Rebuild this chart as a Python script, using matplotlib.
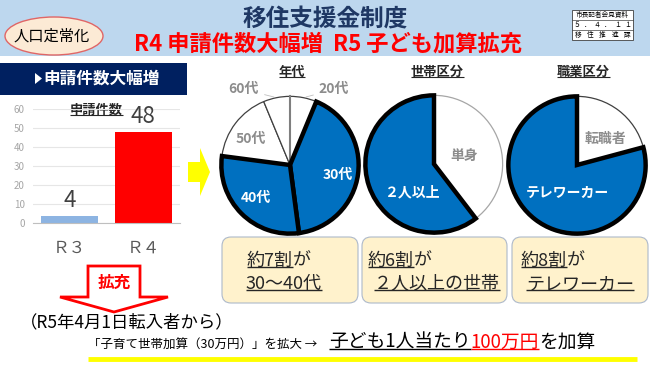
import matplotlib
matplotlib.use('Agg')
import matplotlib.pyplot as plt
from matplotlib.patches import Rectangle, Ellipse, FancyBboxPatch, Polygon
import numpy as np

plt.rcParams['font.family'] = ['Noto Sans CJK JP', 'DejaVu Sans']

W, H = 650, 365

# data
years = ['Ｒ３', 'Ｒ４']
applications = [4, 48]

age_labels = ['20代', '30代', '40代', '50代', '60代']
age_counts = [3, 20, 14, 8, 3]
age_main = [False, True, True, False, False]

household_labels = ['単身', '２人以上']
household_counts = [19, 29]

job_labels = ['転職者', 'テレワーカー']
job_counts = [10, 38]

BLUE = '#0070C0'
GRAY = '#8C8C8C'
DARK = '#262626'

fig = plt.figure(figsize=(6.5, 3.65), dpi=100)
ov = fig.add_axes([0, 0, 1, 1], zorder=0)
ov.set_xlim(0, W)
ov.set_ylim(H, 0)
ov.axis('off')
rend = fig.canvas.get_renderer()


def px_axes(x0, y0, w, h):
    a = fig.add_axes([x0 / W, 1 - (y0 + h) / H, w / W, h / H], zorder=2)
    a.set_facecolor('none')
    return a


def put(x, y, s, size, color=DARK, ha='left', ul=False, ulc=None, weight='normal', ullw=1.0):
    t = ov.text(x, y, s, fontsize=size, color=color, ha=ha, va='center', fontweight=weight)
    bb = t.get_window_extent(renderer=rend)
    inv = ov.transData.inverted()
    (xa, ya), (xb, yb) = inv.transform([(bb.x0, bb.y0), (bb.x1, bb.y1)])
    if ul:
        uy = ya - 0.17 * size * 100 / 72
        ov.plot([xa, xb], [uy, uy], color=ulc or color, lw=ullw, solid_capstyle='butt')
    return xb


# header
ov.add_patch(Rectangle((0, 0), W, 56, color='#BDD7EE', lw=0))
ov.add_patch(Ellipse((54, 36), 98, 38, fc='#FCEAD5', ec='#E06666', lw=1))
put(52, 36, '人口定常化', 11, color='black', ha='center')
put(325, 19, '移住支援金制度', 17, color='#1F3864', ha='center', weight='bold')
put(328, 44, 'R4 申請件数大幅増  R5 子ども加算拡充', 16, color='#FF0000', ha='center', weight='bold')

# stamp
ov.add_patch(Rectangle((572, 10), 61, 30, fc='white', ec='#404040', lw=0.6))
ov.plot([572, 633], [19.5, 19.5], color='#404040', lw=0.5)
ov.plot([572, 633], [30, 30], color='#404040', lw=0.5)
put(602.5, 14.8, '市長記者会見資料', 4.8, color='black', ha='center')
for xx, ch in zip(np.linspace(577, 628, 6), '５．４．１１'):
    put(xx, 24.8, ch, 5, color='black', ha='center')
for xx, ch in zip(np.linspace(578, 627, 5), '移住推進課'):
    put(xx, 35.2, ch, 4.8, color='black', ha='center')

# left panel
ov.add_patch(Rectangle((0, 63), 187, 32, fc='#002060', lw=0))
ov.add_patch(Polygon([(35, 73), (35, 84), (42, 78.5)], closed=True, fc='white', lw=0))
put(43, 79, '申請件数大幅増', 12, color='white', weight='bold')
put(96, 110, '申請件数', 9.5, ha='center', ul=True, weight='bold', ullw=0.8)

bx = px_axes(33, 109.3, 147, 114)
bars = bx.bar(range(len(years)), applications, width=0.78, color=['#8DB4E2', '#FF0000'])
bx.set_xlim(-0.5, 1.5)
bx.set_ylim(0, 60)
bx.set_yticks(range(0, 61, 10))
bx.set_xticks(range(len(years)))
bx.set_xticklabels(years, fontsize=12, color='#595959')
bx.tick_params(axis='y', length=0, labelsize=7, labelcolor='#A6A6A6', pad=6)
bx.tick_params(axis='x', length=0, pad=12)
bx.grid(axis='y', color='#E6E6E6', lw=0.8)
bx.set_axisbelow(True)
for sp in ['top', 'right', 'left']:
    bx.spines[sp].set_visible(False)
bx.spines['bottom'].set_color('#BFBFBF')
bx.bar_label(bars, fontsize=16, color='#404040', padding=3)

# yellow arrow
ov.add_patch(Polygon([(188, 162), (200, 162), (200, 148), (210, 172), (200, 196), (200, 182), (188, 182)],
                     closed=True, fc='#FFFF00', lw=0))

# pies
R = 66
ext = 1.3


def pie_axes(cx, cy):
    a = px_axes(cx - R * ext, cy - R * ext, 2 * R * ext, 2 * R * ext)
    a.set_xlim(-ext, ext)
    a.set_ylim(-ext, ext)
    a.set_aspect('equal')
    a.axis('off')
    return a


def style(wedges, main, edge_white='#404040'):
    for w, m in zip(wedges, main):
        if m:
            w.set_facecolor(BLUE)
            w.set_edgecolor('black')
            w.set_linewidth(3.2)
            w.set_zorder(3)
            w.set_joinstyle('miter')
        else:
            w.set_facecolor('white')
            w.set_edgecolor(edge_white)
            w.set_linewidth(0.9)
            w.set_zorder(2)


p1 = pie_axes(290, 165)
w1, _ = p1.pie(age_counts, startangle=90, counterclock=False, radius=1)
style(w1, age_main)
p1.plot([0, 0], [0, 1], color='#7F7F7F', lw=1.5, zorder=2.5)
pos1 = {'30代': (0.69, -0.15), '40代': (-0.5, -0.48), '50代': (-0.57, 0.38)}
for lab, main in zip(age_labels, age_main):
    if lab in pos1:
        p1.text(*pos1[lab], lab, color='white' if main else GRAY, fontsize=10, fontweight='bold',
                ha='center', va='center', zorder=5)
for lab, w, tx in zip(age_labels, w1, [0.42, 0, 0, 0, -0.45]):
    if lab in ('20代', '60代'):
        mid = np.deg2rad((w.theta1 + w.theta2) / 2)
        p1.annotate(lab, xy=(np.cos(mid), np.sin(mid)), xytext=(tx, 1.1),
                    color=GRAY, fontsize=10, fontweight='bold',
                    ha='left' if tx > 0 else 'right', va='center',
                    arrowprops=dict(arrowstyle='-', color='#BFBFBF', lw=0.6), zorder=5)
put(292, 72, '年代', 9.5, ha='center', ul=True, weight='bold', ullw=0.8)

p2 = pie_axes(434, 164)
w2, _ = p2.pie(household_counts, startangle=90, counterclock=False, radius=1)
style(w2, [False, True], edge_white='#A6A6A6')
p2.text(0.44, 0.11, household_labels[0], color=GRAY, fontsize=10, fontweight='bold', ha='center', va='center', zorder=5)
p2.text(-0.32, -0.42, household_labels[1], color='white', fontsize=10, fontweight='bold', ha='center', va='center', zorder=5)
put(437, 72, '世帯区分', 9.5, ha='center', ul=True, weight='bold', ullw=0.8)

p3 = pie_axes(577, 165)
w3, _ = p3.pie(job_counts, startangle=90, counterclock=False, radius=1)
style(w3, [False, True])
p3.text(0.42, 0.38, job_labels[0], color=GRAY, fontsize=10, fontweight='bold', ha='center', va='center', zorder=5)
p3.text(-0.14, -0.41, job_labels[1], color='white', fontsize=10, fontweight='bold', ha='center', va='center', zorder=5)
put(583, 72, '職業区分', 9.5, ha='center', ul=True, weight='bold', ullw=0.8)

# summary boxes
boxes = [(222, 136, 247, 246, '約7割', '30～40代'),
         (362, 145, 368, 374, '約6割', '２人以上の世帯'),
         (512, 136, 521, 526, '約8割', 'テレワーカー')]
for x0, bw, t1, t2, s1, s2 in boxes:
    ov.add_patch(FancyBboxPatch((x0, 237), bw, 66, boxstyle='round,pad=0,rounding_size=9',
                                fc='#FFF2CC', ec='#ADB9CA', lw=0.8))
    xe = put(t1, 261, s1, 13, ul=True)
    put(xe, 261, 'が', 13)
    put(t2, 284, s2, 13, ul=True)

# red expand arrow
ov.add_patch(Polygon([(88, 266), (140, 266), (140, 297), (168, 297), (114, 312), (60, 297), (88, 297)],
                     closed=True, fc='white', ec='#FF0000', lw=2, joinstyle='miter'))
put(114, 283, '拡充', 12, color='#FF0000', ha='center', weight='bold')

put(20, 322, '（R5年4月1日転入者から）', 12.5, color='black')
put(88, 345, '「子育て世帯加算（30万円）」を拡大 →', 9, color='black')
xe = put(329, 342, '子ども1人当たり', 13.5, color='black', ul=True)
xe = put(xe, 342, '100万円', 13.5, color='#FF0000', ul=True)
put(xe, 342, 'を加算', 13.5, color='black')
ov.plot([88, 637], [359, 359], color='#FFFF00', lw=3.5, solid_capstyle='butt')

fig.savefig('out.png', dpi=100)
